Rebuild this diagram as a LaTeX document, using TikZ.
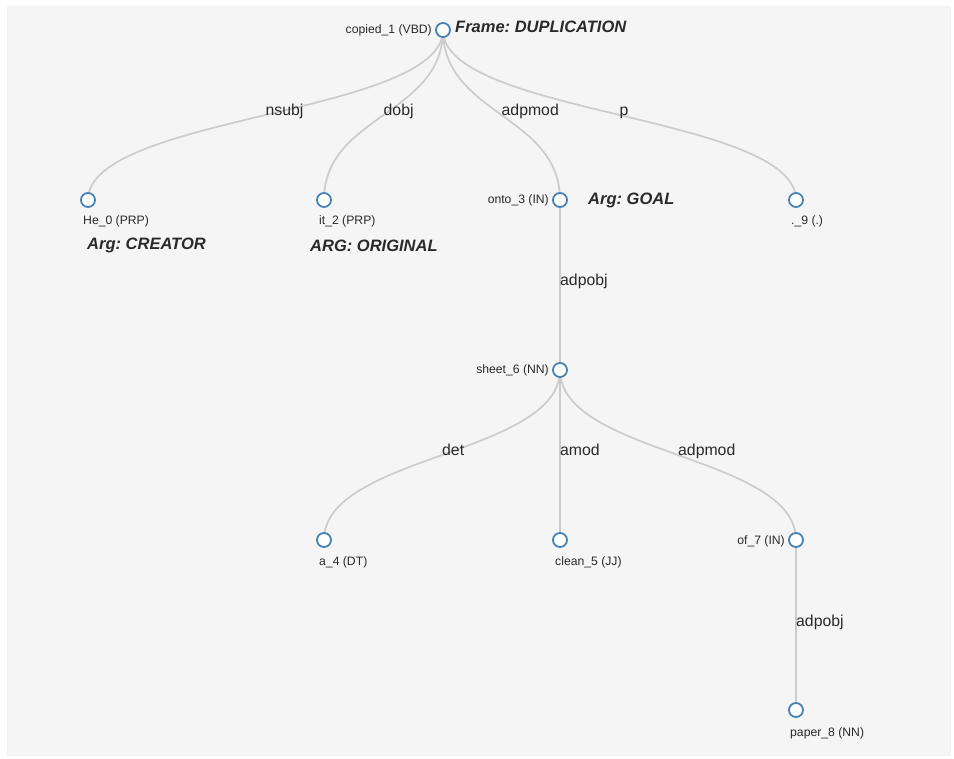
\documentclass[tikz,border=0pt]{standalone}
\usepackage{fontspec}
\setmainfont{Liberation Sans}
\usetikzlibrary{calc}
\pgfdeclarelayer{bg}
\pgfsetlayers{bg,main}
\definecolor{txt}{HTML}{2A2A2A}
\definecolor{linkc}{HTML}{CCCCCC}
\definecolor{nodec}{HTML}{4682B4}
\definecolor{panel}{HTML}{F5F5F5}
\tikzset{
  circ/.style={circle,draw=nodec,fill=white,line width=1.8pt,minimum size=14pt,inner sep=0pt},
  link/.style={draw=linkc,line width=1.7pt},
  elab/.style={anchor=base west,inner sep=0pt,text=txt,font=\fontsize{15.8}{18}\selectfont},
  nlabl/.style={anchor=base east,inner sep=0pt,text=txt,font=\fontsize{12.2}{14}\selectfont},
  nlabb/.style={anchor=base west,inner sep=0pt,text=txt,font=\fontsize{12.2}{14}\selectfont},
  arglab/.style={anchor=base west,inner sep=0pt,text=txt,font=\fontsize{16.5}{19}\selectfont\bfseries\itshape},
}
\frenchspacing
\newcommand\dedge[3]{%
  \path (#1) -- coordinate[pos=0.5] (m#1#2) (#2);
  \begin{pgfonlayer}{bg}
  \draw[link] (#1.center) .. controls (#1 |- m#1#2) and (#2 |- m#1#2) .. (#2.center);
  \end{pgfonlayer}
  \node[elab] at ($(m#1#2)+(0,1)$) {#3};}
\begin{document}
\begin{tikzpicture}[x=1pt,y=-1pt]
\useasboundingbox (0,0) rectangle (954,759);
\begin{pgfonlayer}{bg}
\fill[white] (0,0) rectangle (954,759);
\draw[fill=panel,draw=black!5,line width=0.6pt] (7,6) rectangle (950,755);
\end{pgfonlayer}
% nodes
\node[circ] (copied) at (443,30) {};
\node[circ] (he) at (88,200) {};
\node[circ] (it) at (324,200) {};
\node[circ] (onto) at (560,200) {};
\node[circ] (dot) at (796,200) {};
\node[circ] (sheet) at (560,370) {};
\node[circ] (a) at (324,540) {};
\node[circ] (clean) at (560,540) {};
\node[circ] (of) at (796,540) {};
\node[circ] (paper) at (796,710) {};
% edges
\dedge{copied}{he}{nsubj}
\dedge{copied}{it}{dobj}
\dedge{copied}{onto}{adpmod}
\dedge{copied}{dot}{p}
\dedge{onto}{sheet}{adpobj}
\dedge{sheet}{a}{det}
\dedge{sheet}{clean}{amod}
\dedge{sheet}{of}{adpmod}
\dedge{of}{paper}{adpobj}
% node labels
\node[nlabl] (lcopied) at (432,34) {copied\_1 (VBD)};
\node[nlabl] (lonto) at (549,204) {onto\_3 (IN)};
\node[nlabl] (lsheet) at (549,374) {sheet\_6 (NN)};
\node[nlabl] (lof) at (785,544) {of\_7 (IN)};
\node[nlabb] (lhe) at (83,225) {He\_0 (PRP)};
\node[nlabb] (lit) at (319,225) {it\_2 (PRP)};
\node[nlabb] (ldot) at (791,225) {.\_9 (.)};
\node[nlabb] (la) at (319,565) {a\_4 (DT)};
\node[nlabb] (lclean) at (555,565) {clean\_5 (JJ)};
\node[nlabb] (lpaper) at (790,736) {paper\_8 (NN)};
% frame / args
\node[arglab] (frame) at (455,33) {Frame: DUPLICATION};
\node[arglab] (creator) at (87,250) {Arg: CREATOR};
\node[arglab] (original) at (310,252) {ARG: ORIGINAL};
\node[arglab] (goal) at (588,205) {Arg: GOAL};
\end{tikzpicture}
\end{document}
